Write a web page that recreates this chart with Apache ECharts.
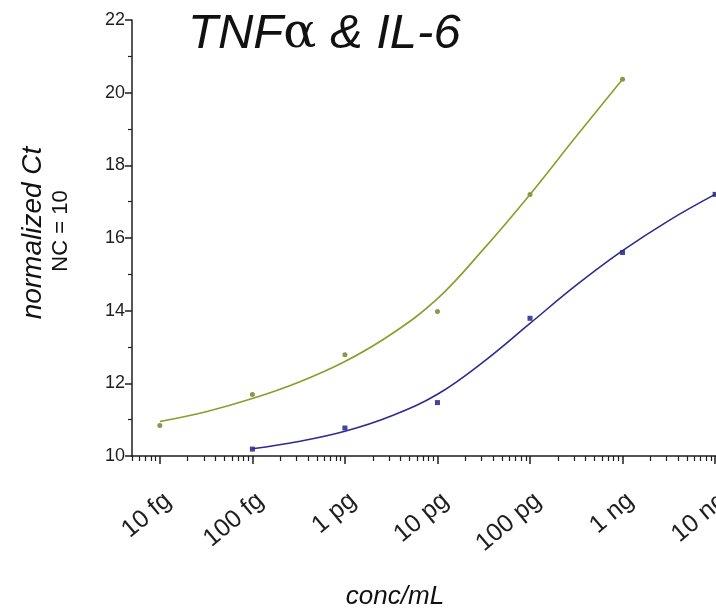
<!DOCTYPE html>
<html>
<head>
<meta charset="utf-8">
<title>TNFα & IL-6 normalized Ct</title>
<script src="https://cdn.jsdelivr.net/npm/echarts@6/dist/echarts.min.js"></script>
<style>
  html, body { margin: 0; padding: 0; background: #ffffff; }
  #chart { width: 716px; height: 611px; }
</style>
</head>
<body>
<div id="chart"></div>
<script>
// Concentration decades, stored as log10 of the concentration in fg/mL
const decadeExp = [1, 2, 3, 4, 5, 6, 7];
const decadeLabels = ['10 fg', '100 fg', '1 pg', '10 pg', '100 pg', '1 ng', '10 ng'];

// Measured normalized Ct (NC = 10)
const tnfExp = [1, 2, 3, 4, 5, 6];
const tnfCt = [10.84, 11.69, 12.79, 13.98, 17.2, 20.37];
const il6Exp = [2, 3, 4, 5, 6, 7];
const il6Ct = [10.19, 10.77, 11.47, 13.79, 15.6, 17.2];

// Fitted curves, sampled every half decade
const tnfFitExp = [1, 1.5, 2, 2.5, 3, 3.5, 4, 4.5, 5, 5.5, 6];
const tnfFitCt = [10.95, 11.22, 11.58, 12.03, 12.6, 13.35, 14.33, 15.7, 17.2, 18.8, 20.37];
const il6FitExp = [2, 2.5, 3, 3.5, 4, 4.5, 5, 5.5, 6, 6.5, 7];
const il6FitCt = [10.2, 10.4, 10.68, 11.1, 11.7, 12.6, 13.65, 14.7, 15.65, 16.48, 17.2];

// Y axis ticks
const yMin = 10, yMax = 22, yStep = 2;

// Axis range: from 5 fg/mL to just past 10 ng/mL
const xMin = Math.log10(5);
const xMax = 7.01;

// Logarithmic minor ticks (2..9 within each decade)
const minorExp = [];
for (let d = 0; d <= 7; d++) {
  for (let k = 2; k <= 9; k++) {
    const v = d + Math.log10(k);
    if (v >= xMin - 1e-9 && v <= xMax) minorExp.push(v);
  }
}

const zip = (xs, ys) => xs.map((x, i) => [x, ys[i]]);

const axisColor = '#1e1e1e';
const greenLine = '#8e9c2c';
const greenDot = '#6e7c1c';
const blueLine = '#2c2c8e';
const blueDot = '#16167e';
const font = '"Liberation Sans", Arial, Helvetica, sans-serif';

const chart = echarts.init(document.getElementById('chart'), null, { renderer: 'canvas' });

chart.setOption({
  backgroundColor: '#ffffff',
  animation: false,
  grid: { left: 132, right: 0, top: 20, bottom: 155, containLabel: false, outerBoundsMode: 'none' },
  xAxis: [
    {
      type: 'value',
      position: 'bottom',
      min: xMin,
      max: xMax,
      splitLine: { show: false },
      axisLine: { show: true, lineStyle: { color: axisColor, width: 1.5 } },
      axisTick: { show: true, customValues: decadeExp, length: 8, lineStyle: { color: axisColor, width: 1.5 } },
      axisLabel: {
        show: true,
        customValues: decadeExp,
        formatter: v => decadeLabels[decadeExp.indexOf(Math.round(v))] || '',
        rotate: 40,
        align: 'right',
        verticalAlign: 'top',
        margin: 32,
        fontSize: 25,
        fontFamily: font,
        color: axisColor
      }
    },
    {
      type: 'value',
      position: 'bottom',
      min: xMin,
      max: xMax,
      splitLine: { show: false },
      axisLine: { show: false },
      axisTick: { show: true, customValues: minorExp, length: 5, lineStyle: { color: axisColor, width: 1.2 } },
      axisLabel: { show: false }
    }
  ],
  yAxis: {
    type: 'value',
    min: yMin,
    max: yMax,
    interval: yStep,
    splitLine: { show: false },
    axisLine: { show: true, lineStyle: { color: axisColor, width: 1.5 } },
    axisTick: { show: true, length: 7, lineStyle: { color: axisColor, width: 1.5 } },
    minorTick: { show: true, splitNumber: 2, length: 4, lineStyle: { color: axisColor, width: 1.2 } },
    axisLabel: { fontSize: 18, fontFamily: font, color: axisColor, margin: 7 }
  },
  series: [
    {
      name: 'TNFα fit',
      type: 'line',
      xAxisIndex: 0,
      data: zip(tnfFitExp, tnfFitCt),
      smooth: 0.4,
      showSymbol: false,
      lineStyle: { color: greenLine, width: 1.6 },
      silent: true
    },
    {
      name: 'IL-6 fit',
      type: 'line',
      xAxisIndex: 0,
      data: zip(il6FitExp, il6FitCt),
      smooth: 0.4,
      showSymbol: false,
      lineStyle: { color: blueLine, width: 1.6 },
      silent: true
    },
    {
      name: 'TNFα',
      type: 'scatter',
      xAxisIndex: 0,
      data: zip(tnfExp, tnfCt),
      symbol: 'circle',
      symbolSize: 5,
      itemStyle: { color: greenDot }
    },
    {
      name: 'IL-6',
      type: 'scatter',
      xAxisIndex: 0,
      data: zip(il6Exp, il6Ct),
      symbol: 'rect',
      symbolSize: 5,
      itemStyle: { color: blueDot }
    }
  ],
  graphic: [
    {
      type: 'text',
      left: 188,
      top: 10,
      style: {
        text: '{a|TNF}{g|α}{a| & IL-6}',
        rich: {
          a: { fontSize: 49, fontStyle: 'italic', fontFamily: font, fill: '#111111' },
          g: { fontSize: 49, fontStyle: 'normal', fontFamily: '"DejaVu Serif", serif', fill: '#111111' }
        }
      }
    },
    {
      type: 'text',
      x: 33,
      y: 233,
      rotation: Math.PI / 2,
      style: {
        text: 'normalized Ct',
        fontSize: 28,
        fontStyle: 'italic',
        fontFamily: font,
        fill: '#111111',
        align: 'center',
        verticalAlign: 'middle'
      }
    },
    {
      type: 'text',
      x: 61,
      y: 231,
      rotation: Math.PI / 2,
      style: {
        text: 'NC = 10',
        fontSize: 22,
        fontFamily: font,
        fill: '#111111',
        align: 'center',
        verticalAlign: 'middle'
      }
    },
    {
      type: 'text',
      x: 395,
      y: 597,
      style: {
        text: 'conc/mL',
        fontSize: 26,
        fontStyle: 'italic',
        fontFamily: font,
        fill: '#111111',
        align: 'center',
        verticalAlign: 'middle'
      }
    }
  ]
});
</script>
</body>
</html>
